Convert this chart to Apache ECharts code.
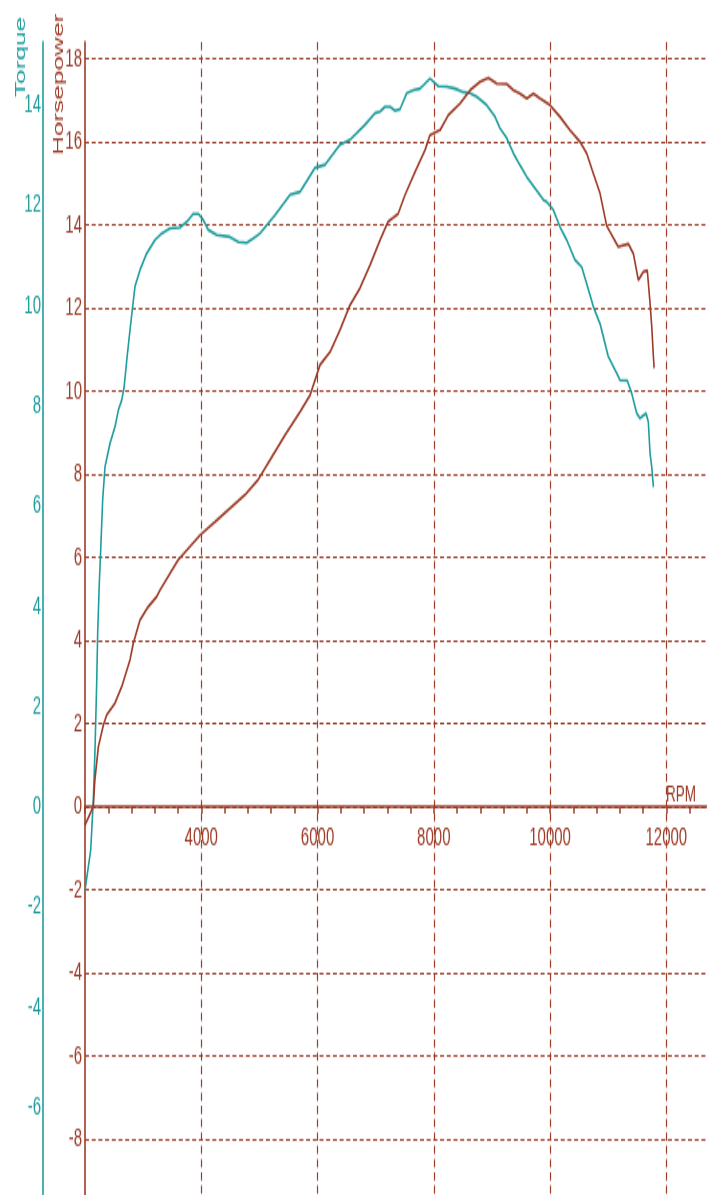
<!DOCTYPE html>
<html>
<head>
<meta charset="utf-8">
<title>Dyno run: torque and horsepower</title>
<script src="https://cdn.jsdelivr.net/npm/echarts@6/dist/echarts.min.js"></script>
<style>
  html, body { margin: 0; padding: 0; background: #fff; overflow: hidden; }
  #stage { width: 707px; height: 1195px; overflow: hidden; position: relative; background: #fff; }
  /* the dyno printout is tall and narrow: draw at 707x683 and stretch vertically */
  #chart { width: 707px; height: 683px; transform-origin: 0 0; transform: scaleY(1.749634); }
</style>
</head>
<body>
<div id="stage"><div id="chart"></div></div>
<script>
// Torque curve (Nm) against engine speed
const torqueRpm = [2000, 2098, 2143, 2172, 2201, 2218, 2246, 2270, 2304, 2344, 2430, 2516, 2573, 2631, 2671, 2722,
  2774, 2820, 2860, 2946, 3061, 3204, 3319, 3462, 3634, 3749, 3863, 3949, 4035, 4121, 4266, 4494, 4637, 4782,
  4895, 5011, 5045, 5269, 5527, 5699, 5957, 6129, 6387, 6559, 6817, 6989, 7075, 7161, 7247, 7333, 7419, 7534,
  7648, 7763, 7935, 8078, 8222, 8365, 8480, 8623, 8738, 8910, 9053, 9139, 9255, 9369, 9484, 9599, 9742, 9885,
  9943, 10056, 10171, 10286, 10429, 10545, 10630, 10744, 10859, 10916, 11002, 11146, 11203, 11329, 11404, 11490,
  11547, 11651, 11690, 11720, 11749, 11778];
const torqueNm = [-1.67, -0.87, 0.13, 1.13, 2.46, 3.46, 4.45, 5.12, 6.12, 6.78, 7.25, 7.58, 7.91, 8.11, 8.35, 8.95,
  9.51, 9.98, 10.38, 10.71, 11.04, 11.31, 11.44, 11.54, 11.56, 11.67, 11.83, 11.83, 11.71, 11.51, 11.41, 11.37, 11.27, 11.25,
  11.34, 11.44, 11.47, 11.81, 12.21, 12.27, 12.75, 12.81, 13.21, 13.31, 13.61, 13.84, 13.87, 13.97, 13.97, 13.89, 13.92, 14.24,
  14.30, 14.33, 14.53, 14.38, 14.37, 14.33, 14.27, 14.24, 14.17, 14.00, 13.77, 13.54, 13.34, 13.04, 12.80, 12.57, 12.34, 12.11,
  12.07, 11.91, 11.57, 11.31, 10.91, 10.77, 10.44, 9.98, 9.64, 9.38, 8.98, 8.65, 8.51, 8.50, 8.25, 7.85,
  7.75, 7.85, 7.68, 7.05, 6.78, 6.38];

// Power curve (hp) against engine speed
const powerRpm = [2000, 2143, 2170, 2230, 2316, 2373, 2516, 2631, 2774, 2831, 2946, 3089, 3233, 3290, 3600, 3978,
  4236, 4494, 4752, 4976, 5183, 5441, 5699, 5871, 6043, 6215, 6387, 6559, 6731, 6903, 7075, 7212, 7384, 7505,
  7677, 7849, 7935, 8107, 8250, 8451, 8623, 8795, 8938, 9083, 9255, 9369, 9484, 9599, 9713, 9828, 9999, 10171,
  10343, 10515, 10630, 10744, 10859, 10974, 11031, 11174, 11347, 11432, 11518, 11604, 11673, 11720, 11749, 11778, 11790];
const powerHp = [-0.44, 0.0, 0.64, 1.44, 1.96, 2.20, 2.49, 2.88, 3.53, 3.93, 4.49, 4.81, 5.05, 5.21, 5.93, 6.53,
  6.85, 7.18, 7.50, 7.86, 8.34, 8.94, 9.50, 9.90, 10.63, 10.94, 11.47, 12.07, 12.48, 13.03, 13.63, 14.07, 14.26, 14.72,
  15.27, 15.80, 16.16, 16.28, 16.64, 16.92, 17.24, 17.44, 17.54, 17.40, 17.39, 17.24, 17.16, 17.04, 17.16, 17.04, 16.88, 16.60,
  16.28, 16.00, 15.72, 15.24, 14.76, 13.98, 13.83, 13.47, 13.54, 13.31, 12.67, 12.87, 12.90, 12.11, 11.55, 10.82, 10.55];

// Axis scales and titles
const rpmRange = [2000, 14000];
const rpmStep = 2000;
const hpRange = [-10, 18.4];
const torqueRange = [-10, 15.26];
const valueStep = 2;
const axisTitles = { x: 'RPM', power: 'Horsepower', torque: 'Torque' };

const TEAL = '#1f9d9d';
const BROWN = '#9d3b27';
const FONT = '"Liberation Sans", Arial, sans-serif';

const pairs = (xs, ys) => xs.map((x, i) => [x, ys[i]]);
const wholeOnly = v => (Math.abs(v - Math.round(v)) < 1e-6 ? String(Math.round(v)) : '');

// plot area: left edge at the power axis, right side runs past the page edge
const plotLeft = 85, plotRight = -75.6, plotTop = 24;

const chart = echarts.init(document.getElementById('chart'), null, { renderer: 'canvas' });

chart.setOption({
  animation: false,
  backgroundColor: '#ffffff',
  textStyle: { fontFamily: FONT },
  grid: [
    // power grid (hp scale, zero row at the RPM axis)
    { left: plotLeft, right: plotRight, top: plotTop, bottom: -15.4, outerBoundsMode: 'none', containLabel: false },
    // torque grid (Nm scale, same zero row)
    { left: plotLeft, right: plotRight, top: plotTop, bottom: -64.3, outerBoundsMode: 'none', containLabel: false },
    // band ending on the zero row, carries the RPM tick labels
    { left: plotLeft, right: plotRight, top: plotTop, bottom: 222.1, outerBoundsMode: 'none', containLabel: false }
  ],
  xAxis: [
    {
      gridIndex: 0, type: 'value', min: rpmRange[0], max: rpmRange[1], interval: rpmStep,
      axisLine: { onZero: true, lineStyle: { color: BROWN, width: 1.7 } },
      axisTick: { show: true, length: 4, lineStyle: { color: BROWN, width: 1.5 } },
      minorTick: { show: true, splitNumber: 5, length: 4, lineStyle: { color: BROWN, width: 1.5 } },
      axisLabel: { show: false },
      splitLine: {
        show: true, showMinLine: false, showMaxLine: false,
        lineStyle: { color: BROWN, width: 1.2, type: [4.75, 2.85] }
      },
      name: axisTitles.x, nameLocation: 'end', nameGap: -116.6, nameMoveOverlap: false,
      nameTextStyle: { color: BROWN, fontSize: 13.5, fontFamily: FONT, align: 'left', verticalAlign: 'bottom' }
    },
    { gridIndex: 1, type: 'value', min: rpmRange[0], max: rpmRange[1], interval: rpmStep, show: false },
    {
      gridIndex: 2, type: 'value', min: rpmRange[0], max: rpmRange[1], interval: rpmStep, position: 'bottom',
      axisLine: { show: false, onZero: false }, axisTick: { show: false }, splitLine: { show: false },
      axisLabel: {
        color: BROWN, fontSize: 15, fontFamily: FONT, margin: 10,
        showMinLabel: false, showMaxLabel: false, formatter: v => String(v)
      }
    }
  ],
  yAxis: [
    {
      gridIndex: 0, type: 'value', min: hpRange[0], max: hpRange[1], interval: valueStep, position: 'left',
      axisLine: { show: true, onZero: false, lineStyle: { color: BROWN, width: 1.6 } },
      axisTick: { show: false },
      axisLabel: { color: BROWN, fontSize: 15, fontFamily: FONT, margin: 3, padding: [4, 0, 0, 0], formatter: wholeOnly },
      splitLine: {
        show: true, showMinLine: false, showMaxLine: false,
        lineStyle: { color: BROWN, width: 1.15, type: [4, 2.7] }
      },
      name: axisTitles.power, nameLocation: 'end', nameRotate: 90, nameGap: -64.6, nameMoveOverlap: false,
      nameTextStyle: { color: BROWN, fontSize: 15, fontFamily: FONT, align: 'left', verticalAlign: 'bottom', padding: [0, 0, 19, 0] }
    },
    {
      gridIndex: 1, type: 'value', min: torqueRange[0], max: torqueRange[1], interval: valueStep,
      position: 'left', offset: 42,
      axisLine: { show: true, onZero: false, lineStyle: { color: TEAL, width: 1.6 } },
      axisTick: { show: false },
      splitLine: { show: false },
      axisLabel: { color: TEAL, fontSize: 15, fontFamily: FONT, margin: 2, padding: [4, 0, 0, 0], formatter: wholeOnly },
      name: axisTitles.torque, nameLocation: 'end', nameRotate: 90, nameGap: -31.4, nameMoveOverlap: false,
      nameTextStyle: { color: TEAL, fontSize: 15, fontFamily: FONT, align: 'left', verticalAlign: 'bottom', padding: [0, 0, 15, 0] }
    },
    { gridIndex: 2, type: 'value', min: 0, max: 1, show: false }
  ],
  series: [
    {
      name: 'Torque', type: 'line', xAxisIndex: 1, yAxisIndex: 1,
      data: pairs(torqueRpm, torqueNm),
      showSymbol: false, symbol: 'none', smooth: false,
      lineStyle: { color: TEAL, width: 1.6 }, itemStyle: { color: TEAL }, z: 3
    },
    {
      name: 'Horsepower', type: 'line', xAxisIndex: 0, yAxisIndex: 0,
      data: pairs(powerRpm, powerHp),
      showSymbol: false, symbol: 'none', smooth: false,
      lineStyle: { color: BROWN, width: 1.6 }, itemStyle: { color: BROWN }, z: 4
    }
  ]
});
</script>
</body>
</html>
